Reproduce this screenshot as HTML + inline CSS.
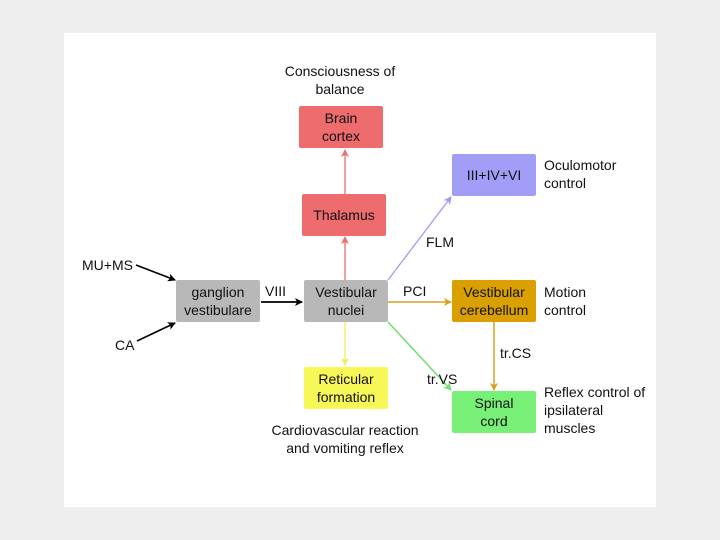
<!DOCTYPE html>
<html><head><style>
body{margin:0;width:720px;height:540px;background:#eeeeee;overflow:hidden;font-family:"Liberation Sans",sans-serif;}
.p{position:absolute;left:64px;top:33px;width:592px;height:474px;background:#fff;}
.b{position:absolute;width:84px;height:42px;border-radius:2px;display:flex;align-items:center;justify-content:center;text-align:center;font-size:14px;line-height:18px;color:#111;}
.t{position:absolute;font-size:14px;line-height:18px;color:#111;}
</style></head><body>
<div class="p"></div>
<svg width="720" height="540" style="position:absolute;left:0;top:0">
<defs>
<marker id="k" markerWidth="8" markerHeight="8" refX="7" refY="4" orient="auto" markerUnits="userSpaceOnUse"><path d="M0,0L8,4L0,8L2,4z" fill="#000"/></marker>
<marker id="r" markerWidth="8" markerHeight="8" refX="7" refY="4" orient="auto" markerUnits="userSpaceOnUse"><path d="M0,0L8,4L0,8L2,4z" fill="#e87070"/></marker>
<marker id="u" markerWidth="8" markerHeight="8" refX="7" refY="4" orient="auto" markerUnits="userSpaceOnUse"><path d="M0,0L8,4L0,8L2,4z" fill="#9f9cf0"/></marker>
<marker id="o" markerWidth="8" markerHeight="8" refX="7" refY="4" orient="auto" markerUnits="userSpaceOnUse"><path d="M0,0L8,4L0,8L2,4z" fill="#d8a020"/></marker>
<marker id="g" markerWidth="8" markerHeight="8" refX="7" refY="4" orient="auto" markerUnits="userSpaceOnUse"><path d="M0,0L8,4L0,8L2,4z" fill="#70e070"/></marker>
<marker id="y" markerWidth="8" markerHeight="8" refX="7" refY="4" orient="auto" markerUnits="userSpaceOnUse"><path d="M0,0L8,4L0,8L2,4z" fill="#eeee60"/></marker>
</defs>
<line x1="136" y1="265" x2="175" y2="280" stroke="#000" stroke-width="1.6" marker-end="url(#k)"/>
<line x1="137" y1="341" x2="175" y2="323" stroke="#000" stroke-width="1.6" marker-end="url(#k)"/>
<line x1="261" y1="302" x2="302" y2="302" stroke="#000" stroke-width="1.8" marker-end="url(#k)"/>
<line x1="345" y1="280" x2="345" y2="237" stroke="#e87070" stroke-width="1.3" marker-end="url(#r)"/>
<line x1="345" y1="194" x2="345" y2="150" stroke="#e87070" stroke-width="1.3" marker-end="url(#r)"/>
<line x1="388" y1="280" x2="451" y2="197" stroke="#9f9cf0" stroke-width="1.3" marker-end="url(#u)"/>
<line x1="388" y1="302" x2="451" y2="302" stroke="#d8a020" stroke-width="1.5" marker-end="url(#o)"/>
<line x1="388" y1="322" x2="451" y2="390" stroke="#70e070" stroke-width="1.5" marker-end="url(#g)"/>
<line x1="345" y1="322" x2="345" y2="365" stroke="#eeee60" stroke-width="1.3" marker-end="url(#y)"/>
<line x1="494" y1="322" x2="494" y2="390" stroke="#d8a020" stroke-width="1.5" marker-end="url(#o)"/>
</svg>
<div class="b" style="left:299px;top:106px;background:#ee6b6e">Brain<br>cortex</div>
<div class="b" style="left:302px;top:194px;background:#ee6b6e">Thalamus</div>
<div class="b" style="left:452px;top:154px;background:#a29ef8">III+IV+VI</div>
<div class="b" style="left:176px;top:280px;background:#b8b8b8">ganglion<br>vestibulare</div>
<div class="b" style="left:304px;top:280px;background:#b8b8b8">Vestibular<br>nuclei</div>
<div class="b" style="left:452px;top:280px;background:#daa000">Vestibular<br>cerebellum</div>
<div class="b" style="left:304px;top:367px;background:#f7f758">Reticular<br>formation</div>
<div class="b" style="left:452px;top:391px;background:#78f078">Spinal<br>cord</div>
<div class="t" style="left:270px;top:62px;width:140px;text-align:center">Consciousness of<br>balance</div>
<div class="t" style="left:544px;top:156px">Oculomotor<br>control</div>
<div class="t" style="left:544px;top:283px">Motion<br>control</div>
<div class="t" style="left:544px;top:383px">Reflex control of<br>ipsilateral<br>muscles</div>
<div class="t" style="left:260px;top:421px;width:170px;text-align:center">Cardiovascular reaction<br>and vomiting reflex</div>
<div class="t" style="left:82px;top:256px">MU+MS</div>
<div class="t" style="left:115px;top:336px">CA</div>
<div class="t" style="left:265px;top:282px">VIII</div>
<div class="t" style="left:403px;top:282px">PCI</div>
<div class="t" style="left:426px;top:233px">FLM</div>
<div class="t" style="left:427px;top:370px">tr.VS</div>
<div class="t" style="left:500px;top:344px">tr.CS</div>
</body></html>
